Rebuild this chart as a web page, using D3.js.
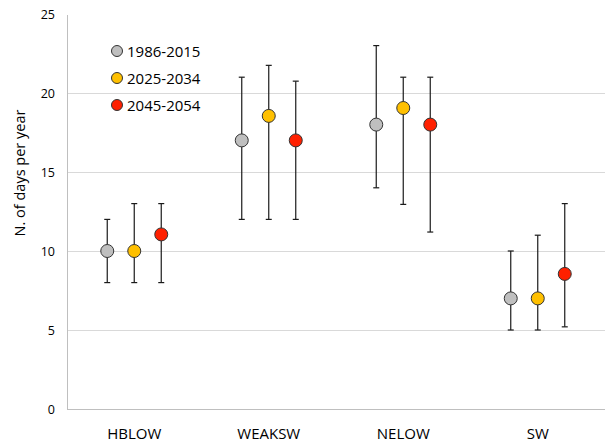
<!DOCTYPE html>
<html><head><meta charset="utf-8">
<script src="https://cdn.jsdelivr.net/npm/d3@7"></script>
<style>body{margin:0;background:#fff;} text{font-family:"Open Sans", sans-serif;fill:#000;}</style>
</head><body><svg id="c" width="605" height="443"></svg>
<script>
const categories = ["HBLOW","WEAKSW","NELOW","SW"];
const seriesNames = ["1986-2015","2025-2034","2045-2054"];
const seriesColors = ["#bfbfbf","#ffc000","#ff2000"];
const mean1986 = [10, 17, 18, 7];
const low1986  = [8, 12, 14, 5];
const high1986 = [12, 21, 23, 10];
const mean2025 = [10, 18.55, 19.05, 7];
const low2025  = [8, 12, 12.95, 5];
const high2025 = [13, 21.75, 21, 11];
const mean2045 = [11.05, 17, 18, 8.55];
const low2045  = [8, 12, 11.2, 5.2];
const high2045 = [13, 20.75, 21, 13];
const yTicks = [0,5,10,15,20,25];

const series = [
  {mean:mean1986, low:low1986, high:high1986},
  {mean:mean2025, low:low2025, high:high2025},
  {mean:mean2045, low:low2045, high:high2045}
];

const svg = d3.select("#c");
const L=67, R=605, T=14, B=409;
const x = d3.scaleBand().domain(categories).range([L,R]);
const xs = d3.scaleBand().domain(seriesNames).range([-40.5,40.5]);
const y = d3.scaleLinear().domain([0,25]).range([B,T]);

// gridlines
svg.append("g").selectAll("line").data(yTicks.filter(d=>d>0 && d<25)).join("line")
  .attr("x1",L).attr("x2",R).attr("y1",d=>y(d)).attr("y2",d=>y(d))
  .attr("stroke","#d9d9d9").attr("stroke-width",1).attr("shape-rendering","crispEdges");

// axes
const yAxis = d3.axisLeft(y).tickValues(yTicks).tickSize(0).tickPadding(12);
const gy = svg.append("g").attr("transform",`translate(${L},0)`).call(yAxis);
gy.select(".domain").attr("stroke","#bfbfbf").attr("shape-rendering","crispEdges");
gy.selectAll("text").style("font-size","12.5px").style("font-family","'Open Sans', sans-serif").attr("fill","#111");

const xAxis = d3.axisBottom(x).tickSize(0).tickPadding(19);
const gx = svg.append("g").attr("transform",`translate(0,${B})`).call(xAxis);
gx.select(".domain").attr("stroke","#bfbfbf").attr("shape-rendering","crispEdges");
gx.selectAll("text").style("font-size","15px").style("font-family","'Open Sans', sans-serif").attr("fill","#111");

// y title
svg.append("text").attr("transform",`translate(25,173) rotate(-90)`)
  .attr("text-anchor","middle").style("font-size","14.5px").attr("fill","#111").text("N. of days per year");

// error bars and points
series.forEach((s,si)=>{
  const g = svg.append("g");
  categories.forEach((c,ci)=>{
    const cx = x(c)+x.bandwidth()/2 + xs(seriesNames[si]) + xs.bandwidth()/2;
    const stroke = "#1a1a1a";
    g.append("line").attr("x1",cx).attr("x2",cx).attr("y1",y(s.low[ci])).attr("y2",y(s.high[ci]))
      .attr("stroke",stroke).attr("stroke-width",1.2);
    [s.low[ci], s.high[ci]].forEach(v=>{
      g.append("line").attr("x1",cx-3).attr("x2",cx+3).attr("y1",y(v)).attr("y2",y(v))
        .attr("stroke",stroke).attr("stroke-width",1.2);
    });
    g.append("circle").attr("cx",cx).attr("cy",y(s.mean[ci])).attr("r",6.5)
      .attr("fill",seriesColors[si]).attr("stroke","#333").attr("stroke-width",1);
  });
});

// legend
const lg = svg.append("g");
seriesNames.forEach((n,i)=>{
  const ly = 51 + i*27;
  lg.append("circle").attr("cx",117).attr("cy",ly).attr("r",5.5)
    .attr("fill",seriesColors[i]).attr("stroke","#333").attr("stroke-width",1);
  lg.append("text").attr("x",127).attr("y",ly+5.5).style("font-size","15px").attr("fill","#111").text(n);
});
</script></body></html>
